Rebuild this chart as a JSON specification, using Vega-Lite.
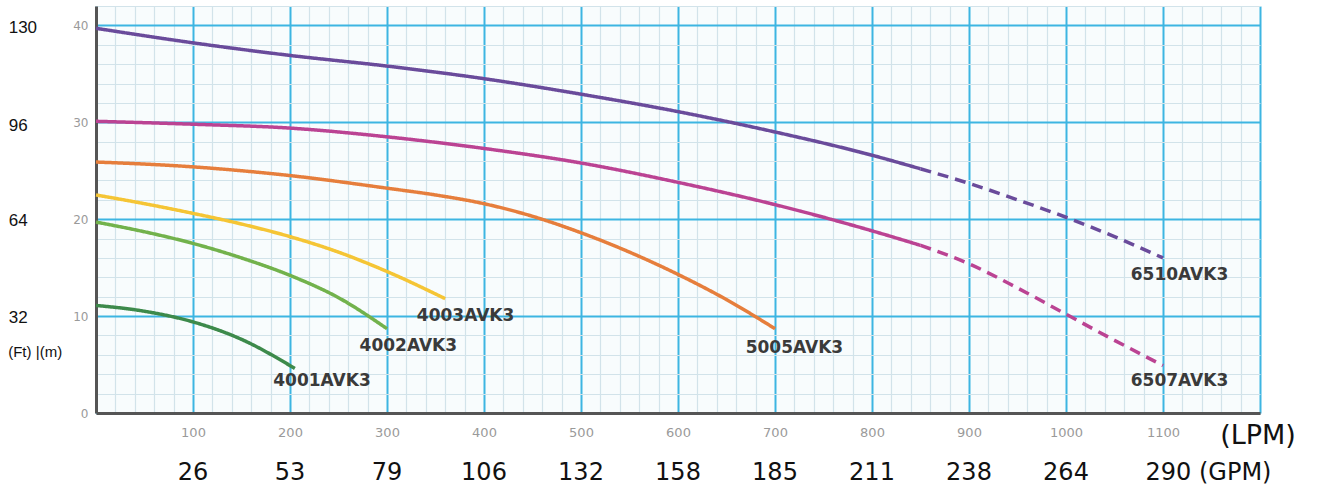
{
  "$schema": "https://vega.github.io/schema/vega-lite/v6.json",
  "autosize": {"type": "none"},
  "padding": {"left": 96, "top": 6, "right": 67, "bottom": 75},
  "width": 1164,
  "height": 407,
  "background": "white",
  "config": {"view": {"fill": "#f8fcfd", "stroke": null}},
  "datasets": {
    "curves": [
      {"model": "6510AVK3", "series": "6510s", "seg": "solid", "lpm": 0, "m": 39.7},
      {"model": "6510AVK3", "series": "6510s", "seg": "solid", "lpm": 100, "m": 38.2},
      {"model": "6510AVK3", "series": "6510s", "seg": "solid", "lpm": 200, "m": 36.9},
      {"model": "6510AVK3", "series": "6510s", "seg": "solid", "lpm": 300, "m": 35.8},
      {"model": "6510AVK3", "series": "6510s", "seg": "solid", "lpm": 400, "m": 34.5},
      {"model": "6510AVK3", "series": "6510s", "seg": "solid", "lpm": 500, "m": 32.9},
      {"model": "6510AVK3", "series": "6510s", "seg": "solid", "lpm": 600, "m": 31.1},
      {"model": "6510AVK3", "series": "6510s", "seg": "solid", "lpm": 700, "m": 29.0},
      {"model": "6510AVK3", "series": "6510s", "seg": "solid", "lpm": 800, "m": 26.6},
      {"model": "6510AVK3", "series": "6510s", "seg": "solid", "lpm": 850, "m": 25.2},
      {"model": "6510AVK3", "series": "6510d", "seg": "dashed", "lpm": 850, "m": 25.2},
      {"model": "6510AVK3", "series": "6510d", "seg": "dashed", "lpm": 900, "m": 23.7},
      {"model": "6510AVK3", "series": "6510d", "seg": "dashed", "lpm": 950, "m": 22.0},
      {"model": "6510AVK3", "series": "6510d", "seg": "dashed", "lpm": 1000, "m": 20.2},
      {"model": "6510AVK3", "series": "6510d", "seg": "dashed", "lpm": 1050, "m": 18.2},
      {"model": "6510AVK3", "series": "6510d", "seg": "dashed", "lpm": 1100, "m": 16.0},
      {"model": "6507AVK3", "series": "6507s", "seg": "solid", "lpm": 0, "m": 30.1},
      {"model": "6507AVK3", "series": "6507s", "seg": "solid", "lpm": 100, "m": 29.8},
      {"model": "6507AVK3", "series": "6507s", "seg": "solid", "lpm": 200, "m": 29.4},
      {"model": "6507AVK3", "series": "6507s", "seg": "solid", "lpm": 300, "m": 28.5},
      {"model": "6507AVK3", "series": "6507s", "seg": "solid", "lpm": 400, "m": 27.3},
      {"model": "6507AVK3", "series": "6507s", "seg": "solid", "lpm": 500, "m": 25.8},
      {"model": "6507AVK3", "series": "6507s", "seg": "solid", "lpm": 600, "m": 23.8},
      {"model": "6507AVK3", "series": "6507s", "seg": "solid", "lpm": 700, "m": 21.5},
      {"model": "6507AVK3", "series": "6507s", "seg": "solid", "lpm": 800, "m": 18.8},
      {"model": "6507AVK3", "series": "6507s", "seg": "solid", "lpm": 850, "m": 17.3},
      {"model": "6507AVK3", "series": "6507d", "seg": "dashed", "lpm": 850, "m": 17.3},
      {"model": "6507AVK3", "series": "6507d", "seg": "dashed", "lpm": 900, "m": 15.4},
      {"model": "6507AVK3", "series": "6507d", "seg": "dashed", "lpm": 950, "m": 12.9},
      {"model": "6507AVK3", "series": "6507d", "seg": "dashed", "lpm": 1000, "m": 10.2},
      {"model": "6507AVK3", "series": "6507d", "seg": "dashed", "lpm": 1050, "m": 7.5},
      {"model": "6507AVK3", "series": "6507d", "seg": "dashed", "lpm": 1100, "m": 4.9},
      {"model": "5005AVK3", "series": "5005", "seg": "solid", "lpm": 0, "m": 25.9},
      {"model": "5005AVK3", "series": "5005", "seg": "solid", "lpm": 100, "m": 25.4},
      {"model": "5005AVK3", "series": "5005", "seg": "solid", "lpm": 200, "m": 24.5},
      {"model": "5005AVK3", "series": "5005", "seg": "solid", "lpm": 300, "m": 23.2},
      {"model": "5005AVK3", "series": "5005", "seg": "solid", "lpm": 350, "m": 22.5},
      {"model": "5005AVK3", "series": "5005", "seg": "solid", "lpm": 400, "m": 21.6},
      {"model": "5005AVK3", "series": "5005", "seg": "solid", "lpm": 450, "m": 20.3},
      {"model": "5005AVK3", "series": "5005", "seg": "solid", "lpm": 500, "m": 18.6},
      {"model": "5005AVK3", "series": "5005", "seg": "solid", "lpm": 550, "m": 16.6},
      {"model": "5005AVK3", "series": "5005", "seg": "solid", "lpm": 600, "m": 14.3},
      {"model": "5005AVK3", "series": "5005", "seg": "solid", "lpm": 650, "m": 11.7},
      {"model": "5005AVK3", "series": "5005", "seg": "solid", "lpm": 700, "m": 8.7},
      {"model": "4003AVK3", "series": "4003", "seg": "solid", "lpm": 0, "m": 22.5},
      {"model": "4003AVK3", "series": "4003", "seg": "solid", "lpm": 50, "m": 21.6},
      {"model": "4003AVK3", "series": "4003", "seg": "solid", "lpm": 100, "m": 20.6},
      {"model": "4003AVK3", "series": "4003", "seg": "solid", "lpm": 150, "m": 19.5},
      {"model": "4003AVK3", "series": "4003", "seg": "solid", "lpm": 200, "m": 18.2},
      {"model": "4003AVK3", "series": "4003", "seg": "solid", "lpm": 250, "m": 16.6},
      {"model": "4003AVK3", "series": "4003", "seg": "solid", "lpm": 300, "m": 14.6},
      {"model": "4003AVK3", "series": "4003", "seg": "solid", "lpm": 360, "m": 11.8},
      {"model": "4002AVK3", "series": "4002", "seg": "solid", "lpm": 0, "m": 19.7},
      {"model": "4002AVK3", "series": "4002", "seg": "solid", "lpm": 50, "m": 18.7},
      {"model": "4002AVK3", "series": "4002", "seg": "solid", "lpm": 100, "m": 17.5},
      {"model": "4002AVK3", "series": "4002", "seg": "solid", "lpm": 150, "m": 16.0},
      {"model": "4002AVK3", "series": "4002", "seg": "solid", "lpm": 200, "m": 14.2},
      {"model": "4002AVK3", "series": "4002", "seg": "solid", "lpm": 250, "m": 11.9},
      {"model": "4002AVK3", "series": "4002", "seg": "solid", "lpm": 300, "m": 8.7},
      {"model": "4001AVK3", "series": "4001", "seg": "solid", "lpm": 0, "m": 11.1},
      {"model": "4001AVK3", "series": "4001", "seg": "solid", "lpm": 50, "m": 10.5},
      {"model": "4001AVK3", "series": "4001", "seg": "solid", "lpm": 100, "m": 9.4},
      {"model": "4001AVK3", "series": "4001", "seg": "solid", "lpm": 150, "m": 7.6},
      {"model": "4001AVK3", "series": "4001", "seg": "solid", "lpm": 205, "m": 4.6}
    ],
    "labels": [
      {"text": "6510AVK3", "lpm": 1117, "m": 14.2},
      {"text": "6507AVK3", "lpm": 1117, "m": 3.3},
      {"text": "5005AVK3", "lpm": 720, "m": 6.7},
      {"text": "4003AVK3", "lpm": 381, "m": 10.0},
      {"text": "4002AVK3", "lpm": 322, "m": 6.9},
      {"text": "4001AVK3", "lpm": 233, "m": 3.3}
    ],
    "ft": [
      {"text": "130", "lpm": -90, "m": 39.7},
      {"text": "96", "lpm": -90, "m": 29.6},
      {"text": "64", "lpm": -90, "m": 19.8},
      {"text": "32", "lpm": -90, "m": 9.8}
    ],
    "units": [
      {"text": "(Ft)", "lpm": -90.5, "m": 6.3},
      {"text": "|(m)", "lpm": -62, "m": 6.3}
    ],
    "gpm": [
      {"text": "26", "lpm": 100, "m": -6.2},
      {"text": "53", "lpm": 200, "m": -6.2},
      {"text": "79", "lpm": 300, "m": -6.2},
      {"text": "106", "lpm": 400, "m": -6.2},
      {"text": "132", "lpm": 500, "m": -6.2},
      {"text": "158", "lpm": 600, "m": -6.2},
      {"text": "185", "lpm": 700, "m": -6.2},
      {"text": "211", "lpm": 800, "m": -6.2},
      {"text": "238", "lpm": 900, "m": -6.2},
      {"text": "264", "lpm": 1000, "m": -6.2}
    ],
    "gpmLast": [
      {"text": "290 (GPM)", "lpm": 1082, "m": -6.2}
    ],
    "lpmUnit": [
      {"text": "(LPM)", "lpm": 1198, "m": -2.4}
    ]
  },
  "encoding": {
    "x": {
      "field": "lpm", "type": "quantitative",
      "scale": {"domain": [0, 1200], "nice": false, "zero": false},
      "axis": {
        "orient": "bottom", "title": null, "format": "d",
        "values": [0,20,40,60,80,100,120,140,160,180,200,220,240,260,280,300,320,340,360,380,400,420,440,460,480,500,520,540,560,580,600,620,640,660,680,700,720,740,760,780,800,820,840,860,880,900,920,940,960,980,1000,1020,1040,1060,1080,1100,1120,1140,1160,1180,1200],
        "labelExpr": "(datum.value % 100 === 0 && datum.value > 0 && datum.value < 1200) ? datum.label : ''",
        "labelOverlap": false,
        "labelFont": "DejaVu Sans", "labelFontSize": 13, "labelColor": "#9a9a9a",
        "labelPadding": 13,
        "ticks": false,
        "domainColor": "#555555", "domainWidth": 3,
        "grid": true,
        "gridColor": {"condition": {"test": "datum.value % 100 === 0", "value": "#3db5e2"}, "value": "#d2e3ea"},
        "gridWidth": {"condition": {"test": "datum.value % 100 === 0", "value": 2}, "value": 1.2},
        "gridOpacity": 1
      }
    },
    "y": {
      "field": "m", "type": "quantitative",
      "scale": {"domain": [0, 42], "nice": false, "zero": false},
      "axis": {
        "orient": "left", "title": null, "format": "d",
        "values": [0,2,4,6,8,10,12,14,16,18,20,22,24,26,28,30,32,34,36,38,40,42],
        "labelExpr": "datum.value % 10 === 0 ? datum.label : ''",
        "labelOverlap": false,
        "labelFont": "DejaVu Sans", "labelFontSize": 12, "labelColor": "#9a9a9a",
        "labelPadding": 8,
        "ticks": false,
        "domainColor": "#555555", "domainWidth": 3,
        "grid": true,
        "gridColor": {"condition": {"test": "datum.value % 10 === 0", "value": "#3db5e2"}, "value": "#d2e3ea"},
        "gridWidth": {"condition": {"test": "datum.value % 10 === 0", "value": 2}, "value": 1.2},
        "gridOpacity": 1
      }
    }
  },
  "layer": [
    {
      "data": {"name": "curves"},
      "mark": {"type": "line", "strokeWidth": 3.5, "interpolate": "monotone", "strokeCap": "butt"},
      "encoding": {
        "color": {
          "field": "model", "type": "nominal", "legend": null,
          "scale": {
            "domain": ["6510AVK3", "6507AVK3", "5005AVK3", "4003AVK3", "4002AVK3", "4001AVK3"],
            "range": ["#6a4b9b", "#bb4393", "#e67e3c", "#f5c535", "#72b24c", "#3d8a4b"]
          }
        },
        "strokeDash": {
          "field": "seg", "type": "nominal", "legend": null,
          "scale": {"domain": ["solid", "dashed"], "range": [[1, 0], [11, 7]]}
        },
        "detail": {"field": "series", "type": "nominal"},
        "order": {"field": "lpm", "type": "quantitative"}
      }
    },
    {
      "data": {"name": "labels"},
      "mark": {"type": "text", "font": "DejaVu Sans", "fontWeight": "bold", "fontSize": 17, "color": "#3a3a3a", "align": "center", "baseline": "middle"},
      "encoding": {"text": {"field": "text"}}
    },
    {
      "data": {"name": "ft"},
      "mark": {"type": "text", "font": "Liberation Sans", "fontSize": 17, "color": "#111111", "align": "left", "baseline": "middle"},
      "encoding": {"text": {"field": "text"}}
    },
    {
      "data": {"name": "units"},
      "mark": {"type": "text", "font": "Liberation Sans", "fontSize": 15, "color": "#111111", "align": "left", "baseline": "middle"},
      "encoding": {"text": {"field": "text"}}
    },
    {
      "data": {"name": "gpm"},
      "mark": {"type": "text", "font": "DejaVu Sans", "fontSize": 24, "color": "#111111", "align": "center", "baseline": "middle"},
      "encoding": {"text": {"field": "text"}}
    },
    {
      "data": {"name": "gpmLast"},
      "mark": {"type": "text", "font": "DejaVu Sans", "fontSize": 24, "color": "#111111", "align": "left", "baseline": "middle"},
      "encoding": {"text": {"field": "text"}}
    },
    {
      "data": {"name": "lpmUnit"},
      "mark": {"type": "text", "font": "DejaVu Sans", "fontSize": 27, "color": "#111111", "align": "center", "baseline": "middle"},
      "encoding": {"text": {"field": "text"}}
    }
  ]
}
